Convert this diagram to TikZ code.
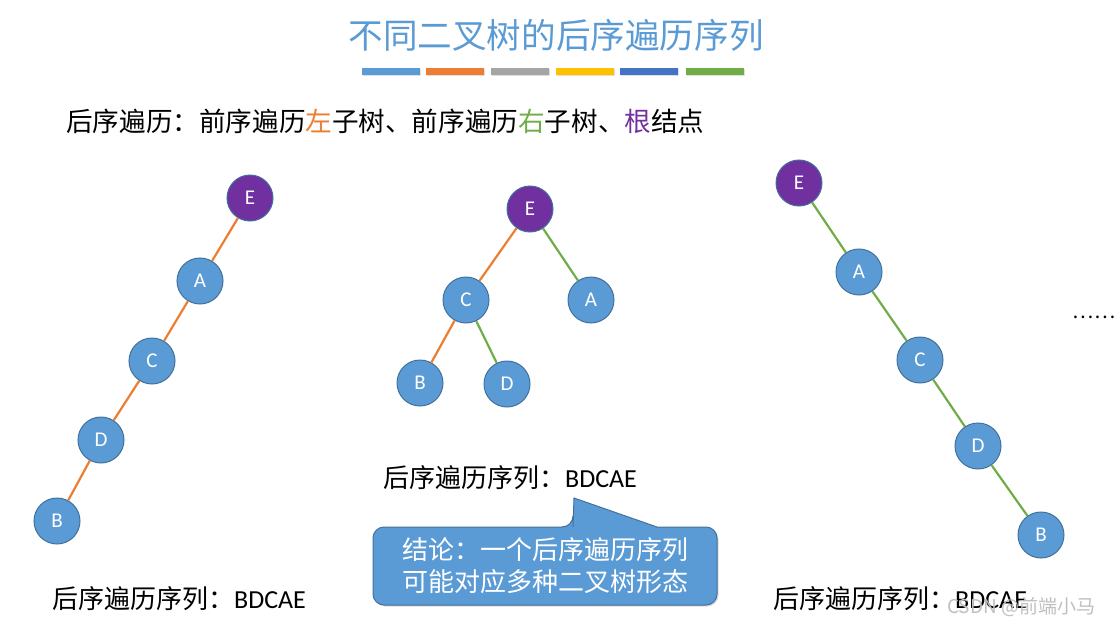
\documentclass[tikz,border=0pt]{standalone}
\usepackage{fontspec}
\setmainfont{Carlito}
\newfontfamily\cjk{Noto Sans CJK SC}
\usetikzlibrary{shadows}
\definecolor{nblue}{HTML}{5B9BD5}
\definecolor{nborder}{HTML}{41719C}
\definecolor{npurple}{HTML}{7030A0}
\definecolor{lorange}{HTML}{ED7D31}
\definecolor{lgreen}{HTML}{70AD47}
\definecolor{bgray}{HTML}{A5A5A5}
\definecolor{byellow}{HTML}{FFC000}
\definecolor{bdblue}{HTML}{4472C4}
\definecolor{titleblue}{HTML}{5B9BD5}
\begin{document}
\begin{tikzpicture}[x=1pt,y=-1pt,
  tn/.style={circle,draw=nborder,line width=1pt,fill=nblue,minimum size=46pt,inner sep=0pt,text=white,font=\fontsize{21}{21}\selectfont},
  rn/.style={tn,fill=npurple},
  lo/.style={lorange,line width=2.2pt},
  rg/.style={lgreen,line width=2.2pt},
  bar/.style={minimum width=58pt,minimum height=7pt,inner sep=0pt,drop shadow={shadow xshift=1pt,shadow yshift=-1.5pt,opacity=0.25}},
  lbl/.style={inner sep=0pt,anchor=west,font=\fontsize{26}{26}\selectfont},
  callout/.style={fill=nblue,draw=nborder,line width=1pt}
]
\useasboundingbox (0,0) rectangle (1120,629);
% title
\node[inner sep=0pt,text=titleblue,font=\cjk\fontsize{34.6}{34.6}\selectfont] (title) at (556,35) {不同二叉树的后序遍历序列};
\node[bar,fill=nblue]   (b1) at (391,71) {};
\node[bar,fill=lorange] (b2) at (455,71) {};
\node[bar,fill=bgray]   (b3) at (520,71) {};
\node[bar,fill=byellow] (b4) at (585,71) {};
\node[bar,fill=bdblue]  (b5) at (649,71) {};
\node[bar,fill=lgreen]  (b6) at (715,71) {};
% rule line
\node[lbl,font=\cjk\fontsize{26.6}{26.6}\selectfont] (rule) at (66,121) {后序遍历：前序遍历\textcolor{lorange}{左}子树、前序遍历\textcolor{lgreen}{右}子树、\textcolor{npurple}{根}结点};
% tree 1
\node[rn] (t1e) at (250,198) {E};
\node[tn] (t1a) at (200,281) {A};
\node[tn] (t1c) at (152,361) {C};
\node[tn] (t1d) at (101,440) {D};
\node[tn] (t1b) at (57,521) {B};
% tree 2
\node[rn] (t2e) at (530,209) {E};
\node[tn] (t2c) at (466,300) {C};
\node[tn] (t2a) at (591,300) {A};
\node[tn] (t2b) at (420,383) {B};
\node[tn] (t2d) at (507,384) {D};
% tree 3
\node[rn] (t3e) at (799,183) {E};
\node[tn] (t3a) at (859,272) {A};
\node[tn] (t3c) at (920,360) {C};
\node[tn] (t3d) at (978,446) {D};
\node[tn] (t3b) at (1041,535) {B};
% edges
\draw[lo] (t1e) -- (t1a);
\draw[lo] (t1a) -- (t1c);
\draw[lo] (t1c) -- (t1d);
\draw[lo] (t1d) -- (t1b);
\draw[lo] (t2e) -- (t2c);
\draw[rg] (t2e) -- (t2a);
\draw[lo] (t2c) -- (t2b);
\draw[rg] (t2c) -- (t2d);
\draw[rg] (t3e) -- (t3a);
\draw[rg] (t3a) -- (t3c);
\draw[rg] (t3c) -- (t3d);
\draw[rg] (t3d) -- (t3b);
% sequence labels
\node[lbl] (s1) at (52,599) {{\cjk 后序遍历序列：}BDCAE};
\node[lbl] (s2) at (383,478) {{\cjk 后序遍历序列：}BDCAE};
\node[lbl] (s3) at (773,599) {{\cjk 后序遍历序列：}BDCAE};
% dots
\node[inner sep=0pt,font=\cjk\fontsize{20}{20}\selectfont] (dots) at (1094,317) {……};
% callout
\draw[callout,drop shadow={shadow xshift=1.5pt,shadow yshift=-1.5pt,opacity=0.3}] (573,527) -- (574,498) -- (657,527) [rounded corners=11pt] -- (717,527) -- (717,605) -- (373,605) -- (373,527) -- (573,527) [sharp corners] -- cycle;
\node[inner sep=0pt,align=center,text=white,font=\cjk\fontsize{26}{32}\selectfont] (concl) at (545,566) {结论：一个后序遍历序列\\可能对应多种二叉树形态};
% watermark
\node[inner sep=0pt,anchor=west,text=black!25,font=\cjk\fontsize{19}{19}\selectfont] (wm) at (947,607) {CSDN @前端小马};
\end{tikzpicture}
\end{document}
